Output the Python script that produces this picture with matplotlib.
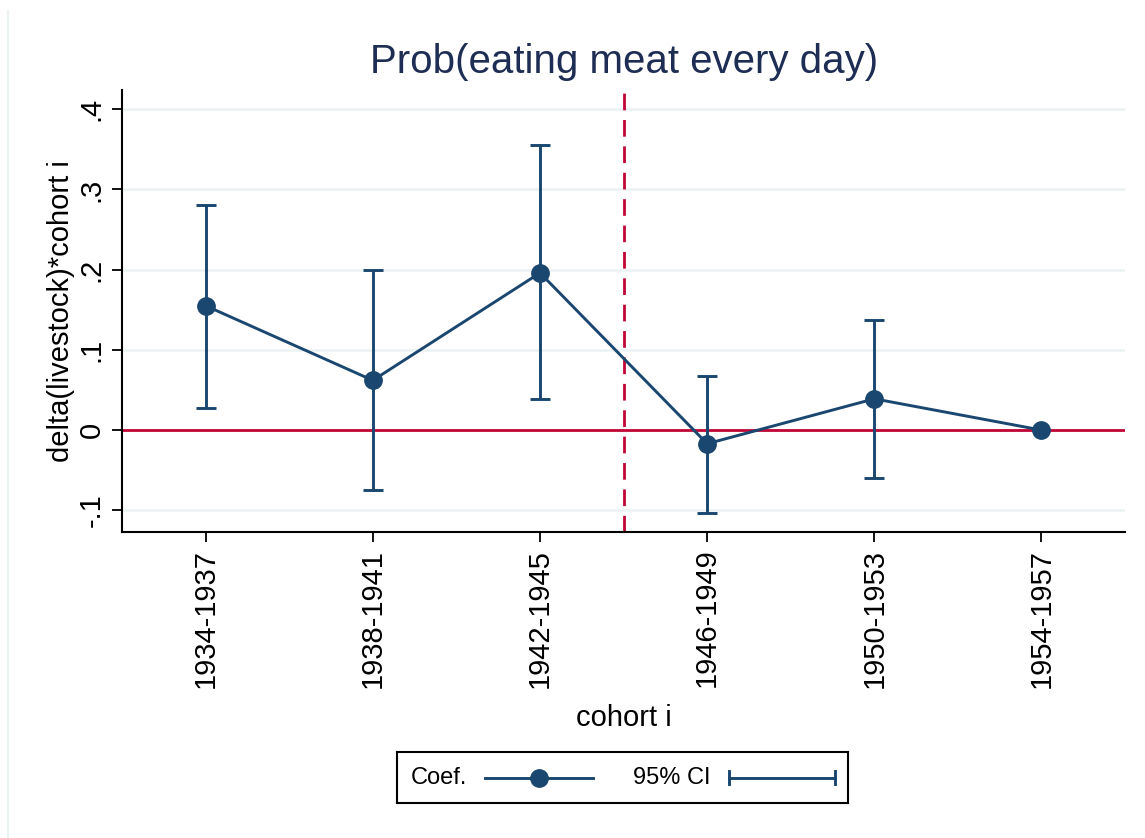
import numpy as np
import matplotlib.pyplot as plt
from matplotlib.lines import Line2D

plt.rcParams['font.family'] = ['Liberation Sans', 'DejaVu Sans']

cohorts = ["1934-1937", "1938-1941", "1942-1945", "1946-1949", "1950-1953", "1954-1957"]
coef = [0.155, 0.062, 0.196, -0.017, 0.039, 0.0]
ci_low = [0.027, -0.075, 0.039, -0.103, -0.060, np.nan]
ci_high = [0.281, 0.199, 0.355, 0.068, 0.137, np.nan]
yticks = [-0.1, 0, 0.1, 0.2, 0.3, 0.4]
ytick_labels = ["-.1", "0", ".1", ".2", ".3", ".4"]

NAVY = "#1a476f"
RED = "#c10534"
GRID = "#eaf2f3"

x = np.arange(1, len(cohorts) + 1)

fig = plt.figure(figsize=(11.45, 8.38), dpi=100)
ax = fig.add_axes([0.1066, 0.3652, 0.876, 0.5274])

for y in yticks:
    ax.axhline(y, color=GRID, lw=1.8, zorder=0)
ax.axhline(0, color=RED, lw=2.0, zorder=1)
ax.axvline(3.5, color=RED, lw=2.0, ls=(0, (6, 3.5)), zorder=1)

lo = np.array(ci_low)
hi = np.array(ci_high)
c = np.array(coef)
mask = ~np.isnan(lo)
ax.errorbar(x[mask], c[mask], yerr=[c[mask] - lo[mask], hi[mask] - c[mask]],
            fmt="none", ecolor=NAVY, elinewidth=2.1, capsize=7.5, capthick=2.1, zorder=2)
ax.plot(x, coef, color=NAVY, lw=2.1, marker="o", ms=12.5, zorder=3)

ax.set_xlim(0.5, 6.5)
ax.set_ylim(-0.127, 0.424)
ax.set_xticks(x)
ax.set_xticklabels(cohorts, rotation=90, fontsize=21)
ax.set_yticks(yticks)
ax.set_yticklabels(ytick_labels, rotation=90, fontsize=21, va="center")
ax.tick_params(axis="both", length=7, width=1.3, pad=5)
for s in ["top", "right"]:
    ax.spines[s].set_visible(False)
for s in ["left", "bottom"]:
    ax.spines[s].set_linewidth(1.5)

ax.set_title("Prob(eating meat every day)", fontsize=29, color="#1e2d53", pad=12)
ax.set_ylabel("delta(livestock)*cohort i", fontsize=21, labelpad=2)
ax.set_xlabel("cohort i", fontsize=21, labelpad=12)

# legend box
lax = fig.add_axes([397 / 1145, 1 - 803 / 838, 451 / 1145, 51 / 838])
lax.set_xlim(0, 451)
lax.set_ylim(0, 51)
lax.set_xticks([])
lax.set_yticks([])
for s in lax.spines.values():
    s.set_linewidth(1.5)
lax.text(14, 25.5, "Coef.", fontsize=17, va="center", ha="left")
lax.add_line(Line2D([88, 196], [25.5, 25.5], color=NAVY, lw=2.1))
lax.plot([142], [25.5], marker="o", ms=12.5, color=NAVY)
lax.text(236, 25.5, "95% CI", fontsize=17, va="center", ha="left")
lax.add_line(Line2D([332, 438], [25.5, 25.5], color=NAVY, lw=2.1))
lax.add_line(Line2D([332, 332], [19, 32], color=NAVY, lw=2.1))
lax.add_line(Line2D([438, 438], [19, 32], color=NAVY, lw=2.1))

# faint outer graph region edge on the left
fig.add_artist(Line2D([8 / 1145, 8 / 1145], [0, 1 - 11 / 838], transform=fig.transFigure,
                      color="#eaf2f3", lw=1.5))

fig.savefig("out.png", dpi=100)
